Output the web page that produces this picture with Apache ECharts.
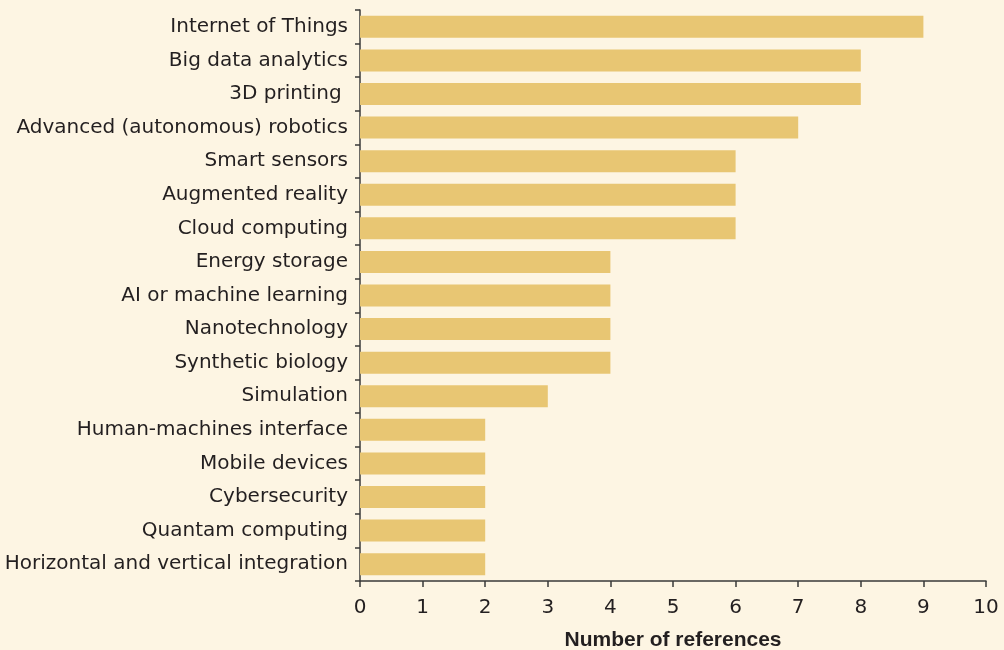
<!DOCTYPE html>
<html>
<head>
<meta charset="utf-8">
<script src="https://cdn.jsdelivr.net/npm/echarts@6/dist/echarts.min.js"></script>
<style>
  html, body { margin: 0; padding: 0; background: #fdf5e3; }
  #chart { width: 1004px; height: 650px; }
</style>
</head>
<body>
<div id="chart"></div>
<script>
  var technologies = [
    'Internet of Things', 'Big data analytics', '3D printing ', 'Advanced (autonomous) robotics',
    'Smart sensors', 'Augmented reality', 'Cloud computing', 'Energy storage',
    'AI or machine learning', 'Nanotechnology', 'Synthetic biology', 'Simulation',
    'Human-machines interface', 'Mobile devices', 'Cybersecurity', 'Quantam computing',
    'Horizontal and vertical integration'
  ];
  var references = [9, 8, 8, 7, 6, 6, 6, 4, 4, 4, 4, 3, 2, 2, 2, 2, 2];

  var chart = echarts.init(document.getElementById('chart'));
  var option = {
    backgroundColor: '#fdf5e3',
    animation: false,
    textStyle: { fontFamily: 'DejaVu Sans, sans-serif' },
    grid: { left: 360, right: 18, top: 10, bottom: 69, containLabel: false, outerBoundsMode: 'none' },
    xAxis: {
      type: 'value',
      min: 0,
      max: 10,
      interval: 1,
      name: 'Number of references',
      nameLocation: 'middle',
      nameGap: 49,
      nameTextStyle: { fontSize: 21, fontWeight: 'bold', color: '#231f20', fontFamily: 'Liberation Sans, Arial, sans-serif' },
      axisLine: { show: true, lineStyle: { color: '#3a3a3a', width: 1.5 } },
      axisTick: { show: true, length: 6, lineStyle: { color: '#3a3a3a', width: 1.5 } },
      axisLabel: { fontSize: 20, color: '#231f20', margin: 17 },
      splitLine: { show: false }
    },
    yAxis: {
      type: 'category',
      inverse: true,
      data: technologies,
      axisLine: { show: true, lineStyle: { color: '#3a3a3a', width: 1.5 } },
      axisTick: { show: true, length: 5, alignWithLabel: false, lineStyle: { color: '#3a3a3a', width: 1.5 } },
      axisLabel: { fontSize: 20, color: '#231f20', margin: 12 }
    },
    series: [{
      type: 'bar',
      data: references,
      barWidth: 22,
      itemStyle: { color: '#e8c673' }
    }]
  };
  chart.setOption(option);
</script>
</body>
</html>
